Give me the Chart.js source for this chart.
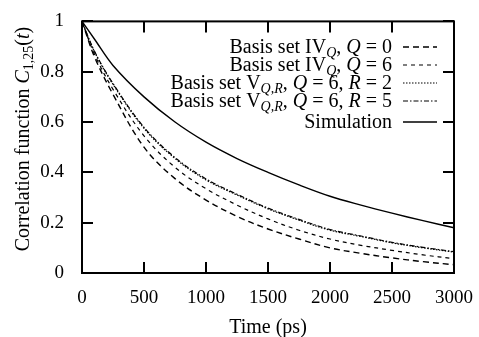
<!DOCTYPE html>
<html lang="en">

<head>
    <meta charset="UTF-8">
    <title>Correlation function</title>
    <script src="https://cdn.jsdelivr.net/npm/chart.js"></script>
    <style>
        body { margin: 0; background: #fff; }
        canvas { display: block; }
    </style>
</head>

<body>
    <canvas id="grafico" width="479" height="337"></canvas>
</body>

</html>

<script>

    // time axis (ps) and the curves
    const tempos = [0, 100, 250, 500, 750, 1000, 1250, 1500, 1750, 2000, 2250, 2500, 2750, 3000];
    const ivQ0 = [1.0, 0.86, 0.71, 0.50, 0.375, 0.29, 0.225, 0.175, 0.135, 0.10, 0.078, 0.06, 0.045, 0.033];
    const ivQ6 = [1.0, 0.87, 0.73, 0.545, 0.42, 0.335, 0.27, 0.215, 0.17, 0.135, 0.11, 0.09, 0.072, 0.057];
    const vR2 = [1.0, 0.88, 0.75, 0.575, 0.455, 0.37, 0.31, 0.255, 0.21, 0.17, 0.145, 0.12, 0.10, 0.083];
    const vR5 = [1.0, 0.882, 0.753, 0.579, 0.459, 0.374, 0.313, 0.258, 0.213, 0.173, 0.147, 0.122, 0.102, 0.085];
    const simulacao = [1.0, 0.93, 0.825, 0.70, 0.60, 0.52, 0.455, 0.40, 0.35, 0.305, 0.27, 0.238, 0.208, 0.18];

    const xTicks = [0, 500, 1000, 1500, 2000, 2500, 3000];
    const yTicks = [0, 0.2, 0.4, 0.6, 0.8, 1];

    // * toggles italic, _{..} is a subscript
    const legendas = [
        'Basis set IV_{*Q*}, *Q* = 0',
        'Basis set IV_{*Q*}, *Q* = 6',
        'Basis set V_{*Q,R*}, *Q* = 6, *R* = 2',
        'Basis set V_{*Q,R*}, *Q* = 6, *R* = 5',
        'Simulation'
    ];
    const tituloX = 'Time (ps)';
    const tituloY = 'Correlation function *C*_{1,25}(*t*)';

    const fonte = '"Liberation Serif", "DejaVu Serif", serif';

    function pontos(valores) {
        return tempos.map(function (t, i) { return { x: t, y: valores[i] }; });
    }

    function partes(texto) {
        let lista = [];
        let italico = false, sub = false, atual = '';
        function fecha() {
            if (atual) lista.push({ t: atual, i: italico, s: sub });
            atual = '';
        }
        for (let k = 0; k < texto.length; k++) {
            let c = texto[k];
            if (c == '*') { fecha(); italico = !italico; }
            else if (c == '_' && texto[k + 1] == '{') { fecha(); sub = true; k++; }
            else if (c == '}' && sub) { fecha(); sub = false; }
            else atual += c;
        }
        fecha();
        return lista;
    }

    function fonteParte(p, tam) {
        let t = p.s ? Math.round(tam * 0.7) : tam;
        return (p.i ? 'italic ' : '') + t + 'px ' + fonte;
    }

    function largura(ctx, lista, tam) {
        let w = 0;
        lista.forEach(function (p) { ctx.font = fonteParte(p, tam); w += ctx.measureText(p.t).width; });
        return w;
    }

    // draws mixed text starting at x, baseline y
    function escreve(ctx, lista, x, y, tam) {
        ctx.textBaseline = 'alphabetic';
        ctx.textAlign = 'left';
        lista.forEach(function (p) {
            ctx.font = fonteParte(p, tam);
            ctx.fillText(p.t, x, p.s ? y + tam * 0.22 : y);
            x += ctx.measureText(p.t).width;
        });
    }

    const moldura = {
        id: 'moldura',
        afterDraw(chart) {
            const ctx = chart.ctx;
            const a = chart.chartArea;
            const sx = chart.scales.x, sy = chart.scales.y;
            ctx.save();
            ctx.strokeStyle = '#000';
            ctx.fillStyle = '#000';
            ctx.lineWidth = 2;
            ctx.setLineDash([]);
            ctx.strokeRect(a.left, a.top, a.right - a.left, a.bottom - a.top);

            // inner ticks on all four sides
            ctx.beginPath();
            xTicks.forEach(function (v) {
                let px = Math.round(sx.getPixelForValue(v));
                ctx.moveTo(px, a.bottom); ctx.lineTo(px, a.bottom - 11);
                ctx.moveTo(px, a.top); ctx.lineTo(px, a.top + 11);
            });
            yTicks.forEach(function (v) {
                let py = Math.round(sy.getPixelForValue(v));
                ctx.moveTo(a.left, py); ctx.lineTo(a.left + 11, py);
                ctx.moveTo(a.right, py); ctx.lineTo(a.right - 11, py);
            });
            ctx.stroke();

            // axis titles
            let tam = 20;
            let lx = partes(tituloX);
            escreve(ctx, lx, (a.left + a.right) / 2 - largura(ctx, lx, tam) / 2, 333, tam);

            let ly = partes(tituloY);
            ctx.translate(29, 139);
            ctx.rotate(-Math.PI / 2);
            escreve(ctx, ly, -largura(ctx, ly, tam) / 2, 0, tam);
            ctx.restore();

            // legend
            ctx.save();
            const linhasY = [47, 65, 83, 101, 122];
            const fimTexto = 392;
            chart.data.datasets.forEach(function (ds, i) {
                let lista = partes(legendas[i]);
                let y = linhasY[i];
                ctx.fillStyle = '#000';
                escreve(ctx, lista, fimTexto - largura(ctx, lista, tam), y + 6, tam);
                ctx.strokeStyle = '#000';
                ctx.lineWidth = ds.borderWidth;
                ctx.setLineDash(ds.borderDash || []);
                ctx.beginPath();
                ctx.moveTo(403, y);
                ctx.lineTo(437, y);
                ctx.stroke();
            });
            ctx.restore();
        }
    };

    let tela = document.getElementById('grafico');

    Chart.defaults.font.family = fonte;
    Chart.defaults.color = '#000';

    var grafico = new Chart(tela, {
        type: 'line',
        data: {
            datasets: [
                { label: 'IVQ0', data: pontos(ivQ0), borderDash: [6, 4], borderWidth: 1.4 },
                { label: 'IVQ6', data: pontos(ivQ6), borderDash: [4, 4], borderWidth: 1.2 },
                { label: 'VR2', data: pontos(vR2), borderDash: [1.5, 1.5], borderWidth: 1.2 },
                { label: 'VR5', data: pontos(vR5), borderDash: [5, 2, 1.5, 2], borderWidth: 1.2 },
                { label: 'Sim', data: pontos(simulacao), borderWidth: 1.4 }
            ].map(function (d) {
                return Object.assign({
                    borderColor: '#000',
                    pointRadius: 0,
                    fill: false,
                    tension: 0.35
                }, d);
            })
        },
        options: {
            responsive: false,
            devicePixelRatio: 1,
            animation: false,
            layout: { padding: { top: 16, right: 19, left: 0, bottom: 0 } },
            plugins: {
                legend: { display: false },
                tooltip: { enabled: false }
            },
            scales: {
                x: {
                    type: 'linear',
                    min: 0,
                    max: 3000,
                    grid: { display: false },
                    border: { display: false },
                    afterBuildTicks: function (s) { s.ticks = xTicks.map(function (v) { return { value: v }; }); },
                    ticks: {
                        font: { size: 19 }, color: '#000', padding: 6, maxRotation: 0,
                        callback: function (v) { return String(v); }
                    },
                    afterFit: function (s) { s.height = 64; }
                },
                y: {
                    min: 0,
                    max: 1,
                    grid: { display: false },
                    border: { display: false },
                    afterBuildTicks: function (s) { s.ticks = yTicks.map(function (v) { return { value: v }; }); },
                    ticks: {
                        font: { size: 19 }, color: '#000', padding: 10,
                        callback: function (v) { return String(v); }
                    },
                    afterFit: function (s) { s.width = 82; }
                }
            }
        },
        plugins: [moldura]
    });

</script>
